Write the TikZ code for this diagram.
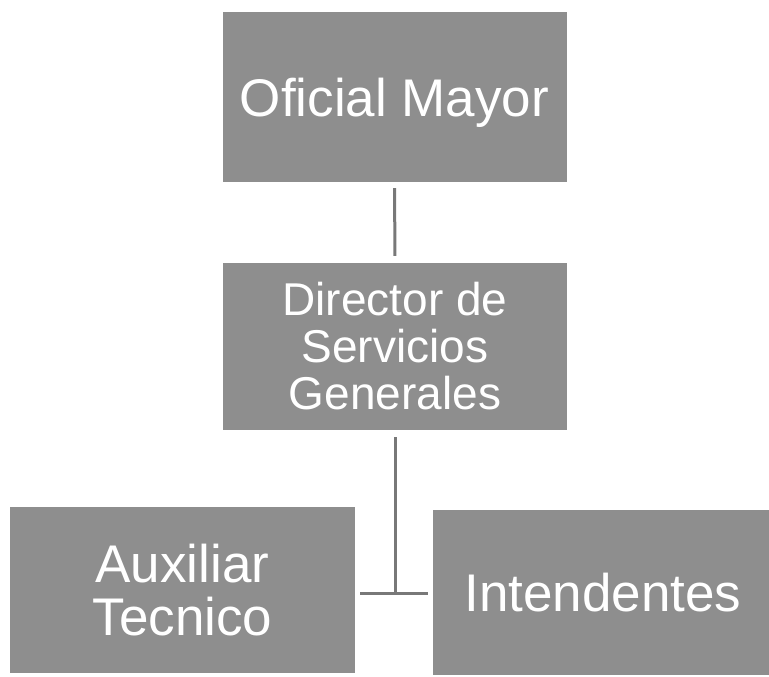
\documentclass[tikz,border=0pt]{standalone}
\usepackage{fontspec}
\setmainfont{Liberation Sans}
\definecolor{boxgray}{RGB}{142,142,142}
\definecolor{linegray}{RGB}{120,120,120}
\begin{document}
\begin{tikzpicture}[x=1pt,y=-1pt,
  orgbox/.style={fill=boxgray, draw=none, text=white, align=center, inner sep=0pt},
  conn/.style={draw=linegray, line width=3pt}]
\useasboundingbox[fill=white] (0,0) rectangle (769,677);
\node[orgbox, minimum width=344pt, minimum height=170pt, text depth=0pt, font=\fontsize{53}{55}\selectfont] (om) at (394.5,97) {Oficial Mayor};
\node[orgbox, minimum width=344pt, minimum height=167pt, font=\fontsize{46}{47}\selectfont] (dir) at (395,346.5) {Director de\\Servicios\\Generales};
\node[orgbox, minimum width=345pt, minimum height=166pt, font=\fontsize{53}{53}\selectfont] (aux) at (182.5,590) {Auxiliar\\Tecnico};
\node[orgbox, minimum width=340pt, minimum height=165pt, font=\fontsize{53}{55}\selectfont] (int) at (603,592.5) {Intendentes};
\coordinate (j) at (395,593);
\draw[conn, shorten <=6pt, shorten >=7pt] (om.south) -- (dir.north);
\draw[conn, shorten <=7pt] (dir.south) -- (j);
\draw[conn, shorten >=5pt, shorten <=5pt] (aux.east |- j) -- (int.west |- j);
\end{tikzpicture}
\end{document}
